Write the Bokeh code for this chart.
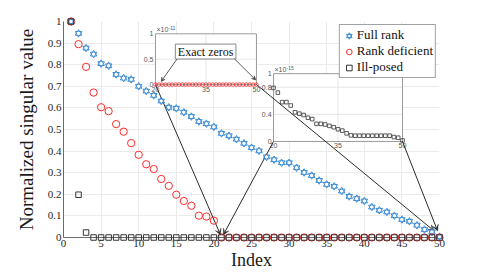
from bokeh.plotting import figure
from bokeh.models import (Range1d, FixedTicker, CustomJSTickFormatter, Legend, LegendItem,
                          Arrow, VeeHead, ColumnDataSource)
from bokeh.embed import file_html
from bokeh.resources import INLINE
from bokeh.core.properties import value

# ---------------- data ----------------
index = [1, 2, 3, 4, 5, 6, 7, 8, 9, 10, 11, 12, 13, 14, 15, 16, 17, 18, 19, 20,
         21, 22, 23, 24, 25, 26, 27, 28, 29, 30, 31, 32, 33, 34, 35, 36, 37, 38, 39, 40,
         41, 42, 43, 44, 45, 46, 47, 48, 49, 50]
full_rank = [1.0, 0.945, 0.877, 0.849, 0.805, 0.795, 0.755, 0.738, 0.732, 0.700,
             0.678, 0.658, 0.632, 0.603, 0.598, 0.580, 0.560, 0.537, 0.527, 0.512,
             0.482, 0.471, 0.455, 0.436, 0.416, 0.401, 0.373, 0.360, 0.346, 0.346,
             0.323, 0.301, 0.287, 0.264, 0.246, 0.237, 0.215, 0.190, 0.180, 0.169,
             0.141, 0.126, 0.118, 0.101, 0.083, 0.075, 0.057, 0.037, 0.026, 0.004]
rank_deficient = [1.0, 0.895, 0.790, 0.671, 0.603, 0.585, 0.525, 0.490, 0.437, 0.383,
                  0.339, 0.317, 0.271, 0.239, 0.198, 0.169, 0.147, 0.101, 0.097, 0.078,
                  0.0, 0.0, 0.0, 0.0, 0.0, 0.0, 0.0, 0.0, 0.0, 0.0,
                  0.0, 0.0, 0.0, 0.0, 0.0, 0.0, 0.0, 0.0, 0.0, 0.0,
                  0.0, 0.0, 0.0, 0.0, 0.0, 0.0, 0.0, 0.0, 0.0, 0.0]
ill_posed = [1.0, 0.198, 0.023, 0.0, 0.0, 0.0, 0.0, 0.0, 0.0, 0.0,
             0.0, 0.0, 0.0, 0.0, 0.0, 0.0, 0.0, 0.0, 0.0, 0.0,
             0.0, 0.0, 0.0, 0.0, 0.0, 0.0, 0.0, 0.0, 0.0, 0.0,
             0.0, 0.0, 0.0, 0.0, 0.0, 0.0, 0.0, 0.0, 0.0, 0.0,
             0.0, 0.0, 0.0, 0.0, 0.0, 0.0, 0.0, 0.0, 0.0, 0.0]
x_ticks = [0, 5, 10, 15, 20, 25, 30, 35, 40, 45, 50]
y_ticks = [0, 0.1, 0.2, 0.3, 0.4, 0.5, 0.6, 0.7, 0.8, 0.9, 1]

# inset data (index 20..50)
inset_index = [20, 21, 22, 23, 24, 25, 26, 27, 28, 29, 30, 31, 32, 33, 34, 35,
               36, 37, 38, 39, 40, 41, 42, 43, 44, 45, 46, 47, 48, 49, 50]
exact_zeros = [0.0, 0.0, 0.0, 0.0, 0.0, 0.0, 0.0, 0.0, 0.0, 0.0, 0.0, 0.0, 0.0, 0.0, 0.0, 0.0,
               0.0, 0.0, 0.0, 0.0, 0.0, 0.0, 0.0, 0.0, 0.0, 0.0, 0.0, 0.0, 0.0, 0.0, 0.0]  # x 1e-11
ill_posed_tail = [0.79, 0.72, 0.58, 0.58, 0.53, 0.43, 0.41, 0.39, 0.35, 0.33, 0.26, 0.26,
                  0.25, 0.23, 0.21, 0.18, 0.16, 0.12, 0.09, 0.085, 0.085, 0.085, 0.085,
                  0.085, 0.085, 0.085, 0.085, 0.085, 0.065, 0.055, 0.015]  # x 1e-15
inset_x_ticks = [20, 35, 50]
inset1_y_ticks = [0, 0.5, 1]
inset1_y_labels = ["0", "0.5", "1"]
inset2_y_ticks = [0, 0.4, 0.8, 1]
inset2_y_labels = ["0", "0.4", "0.8", "1"]

# ---------------- styles / layout ----------------
BLUE = "#3a8bd6"
RED = "#ff2a2a"
DARK = "#333333"
SERIF = "Liberation Serif"
SANS = "Liberation Sans"
INSET_SRC = ((20, 50), (0, 1))
INSET1_TGT = ((12.23, 25.66), (0.708, 0.943))
INSET2_TGT = ((27.93, 45.08), (0.4446, 0.7585))

p = figure(width=485, height=272, x_range=Range1d(0, 50), y_range=Range1d(0, 1),
           output_backend="svg", toolbar_location=None,
           min_border_left=63, min_border_right=46, min_border_top=21, min_border_bottom=35)
p.outline_line_color = None
p.background_fill_color = "white"

fmt = CustomJSTickFormatter(code="return String(Math.round(tick*1000)/1000)")
p.xaxis.ticker = FixedTicker(ticks=x_ticks)
p.yaxis.ticker = FixedTicker(ticks=y_ticks)
p.xgrid.ticker = FixedTicker(ticks=x_ticks)
p.ygrid.ticker = FixedTicker(ticks=y_ticks)
for ax in (p.xaxis[0], p.yaxis[0]):
    ax.formatter = fmt
    ax.major_label_text_font = SERIF
    ax.major_label_text_font_size = "11px"
    ax.major_label_text_color = "#262626"
    ax.axis_line_color = "#6a6a6a"
    ax.major_tick_line_color = "#6a6a6a"
    ax.major_tick_in = 0
    ax.major_tick_out = 0
    ax.minor_tick_line_color = None
    ax.axis_label_text_font = SERIF
    ax.axis_label_text_font_style = "normal"
    ax.axis_label_text_color = "#1a1a1a"
p.xaxis.major_label_standoff = 2
p.yaxis.major_label_standoff = 2
p.yaxis.axis_label = "Normalized singular value"
p.yaxis.axis_label_text_font_size = "19px"
p.yaxis.axis_label_standoff = 8
p.xaxis.axis_label = "Index"
p.xaxis.axis_label_text_font_size = "18px"
p.xaxis.axis_label_standoff = 0
p.grid.grid_line_color = "#ebebeb"

# ---------------- main data ----------------
src = ColumnDataSource(dict(index=index, full=full_rank, rank=rank_deficient, ill=ill_posed))
r_tri = p.scatter("index", "full", source=src, marker="triangle", size=6.5,
                  fill_color=None, line_color=BLUE, line_width=1)
r_itri = p.scatter("index", "full", source=src, marker="inverted_triangle", size=6.5,
                   fill_color=None, line_color=BLUE, line_width=1)
r_w1 = p.scatter("index", "full", source=src, marker="triangle", size=3.6,
                 fill_color="white", line_color=None)
r_w2 = p.scatter("index", "full", source=src, marker="inverted_triangle", size=3.6,
                 fill_color="white", line_color=None)
r_rank = p.scatter("index", "rank", source=src, marker="circle", size=7.3,
                   fill_color=None, line_color=RED, line_width=1)
r_ill = p.scatter("index", "ill", source=src, marker="square", size=5.5,
                  fill_color=None, line_color=DARK, line_width=1)
for r in (r_tri, r_itri, r_w1, r_w2, r_rank, r_ill):
    r.level = "overlay"


def to_main(tgt, x, y):
    (sx0, sx1), (sy0, sy1) = INSET_SRC
    (tx0, tx1), (ty0, ty1) = tgt
    return (tx0 + (x - sx0) / (sx1 - sx0) * (tx1 - tx0),
            ty0 + (y - sy0) / (sy1 - sy0) * (ty1 - ty0))


def draw_inset(tgt, yticks, ylabels, exponent):
    (x0, x1), (y0, y1) = INSET_SRC
    g = p.subplot(x_source=Range1d(x0, x1), y_source=Range1d(y0, y1),
                  x_target=Range1d(*tgt[0]), y_target=Range1d(*tgt[1]))
    g.quad(left=[x0], right=[x1], bottom=[y0], top=[y1], fill_color="white", line_color=None)
    gx = [t for t in inset_x_ticks if x0 < t < x1]
    g.segment(x0=gx, y0=[y0] * len(gx), x1=gx, y1=[y1] * len(gx), line_color="#e6e6e6", line_width=1)
    gy = [t for t in yticks if y0 < t < y1]
    g.segment(x0=[x0] * len(gy), y0=gy, x1=[x1] * len(gy), y1=gy, line_color="#e6e6e6", line_width=1)
    g.quad(left=[x0], right=[x1], bottom=[y0], top=[y1], fill_color=None,
           line_color="#9a9a9a", line_width=1)
    g.text(x=inset_x_ticks, y=[y0] * len(inset_x_ticks), text=[str(t) for t in inset_x_ticks],
           text_align="center", text_baseline="top", y_offset=2,
           text_font=value(SANS), text_font_size="7px", text_color="#555555")
    g.text(x=[x0] * len(yticks), y=yticks, text=ylabels, text_align="right", text_baseline="middle",
           x_offset=-2, text_font=value(SANS), text_font_size="7px", text_color="#555555")
    g.text(x=[x0], y=[y1], text=["×10"], text_align="left", text_baseline="bottom",
           x_offset=1, y_offset=-1, text_font=value(SANS), text_font_size="7px", text_color="#555555")
    g.text(x=[x0], y=[y1], text=[exponent], text_align="left", text_baseline="bottom",
           x_offset=13, y_offset=-4, text_font=value(SANS), text_font_size="5px", text_color="#555555")
    return g


ins1 = draw_inset(INSET1_TGT, inset1_y_ticks, inset1_y_labels, "-11")
ins1.scatter(inset_index, exact_zeros, marker="circle", size=3.6, fill_color=None,
             line_color=RED, line_width=0.8)
# "Exact zeros" callout box
ins1.quad(left=[25.9], right=[43.9], bottom=[0.504], top=[0.798], fill_color="white",
          line_color="#8a8a8a", line_width=1)
ins1.text(x=[34.9], y=[0.651], text=["Exact zeros"], text_align="center", text_baseline="middle",
          text_font=value(SERIF), text_font_size="12px", text_color="#111111")

ins2 = draw_inset(INSET2_TGT, inset2_y_ticks, inset2_y_labels, "-15")
ins2.scatter(inset_index, ill_posed_tail, marker="square", size=3.6, fill_color=None,
             line_color=DARK, line_width=0.8)

# callout arrows inside inset 1
for (sx, sy), (ex, ey) in [((26.4, 0.504), (21.7, 0.06)), ((43.5, 0.504), (49.8, 0.09))]:
    xs, ys = to_main(INSET1_TGT, sx, sy)
    xe, ye = to_main(INSET1_TGT, ex, ey)
    p.add_layout(Arrow(x_start=xs, y_start=ys, x_end=xe, y_end=ye, line_color="#333333",
                       line_width=0.8, end=VeeHead(size=4, fill_color="#333333",
                                                  line_color="#333333", line_width=0.5)))

# big arrows from inset corners to the main axis
big = [(INSET1_TGT, 20, (20.88, 0.012)), (INSET2_TGT, 20, (21.25, 0.012)),
       (INSET1_TGT, 50, (49.3, 0.03)), (INSET2_TGT, 50, (49.75, 0.03))]
for tgt, xi, (xe, ye) in big:
    xs, ys = to_main(tgt, xi, 0)
    p.add_layout(Arrow(x_start=xs, y_start=ys, x_end=xe, y_end=ye, line_color="#2a2a2a",
                       line_width=1, end=VeeHead(size=6, fill_color="#2a2a2a",
                                                 line_color="#2a2a2a", line_width=0.5)))

legend = Legend(items=[LegendItem(label="Full rank", renderers=[r_tri, r_itri]),
                       LegendItem(label="Rank deficient", renderers=[r_rank]),
                       LegendItem(label="Ill-posed", renderers=[r_ill])],
                location="top_right")
legend.label_text_font = SERIF
legend.label_text_font_size = "13px"
legend.label_text_color = "#111111"
legend.border_line_color = "#444444"
legend.border_line_width = 1
legend.background_fill_alpha = 1
legend.padding = 2
legend.spacing = 0
legend.margin = 3
legend.label_height = 15
legend.glyph_height = 15
legend.glyph_width = 14
legend.label_standoff = 1
p.add_layout(legend)

open("out.html", "w").write(file_html(p, INLINE))
